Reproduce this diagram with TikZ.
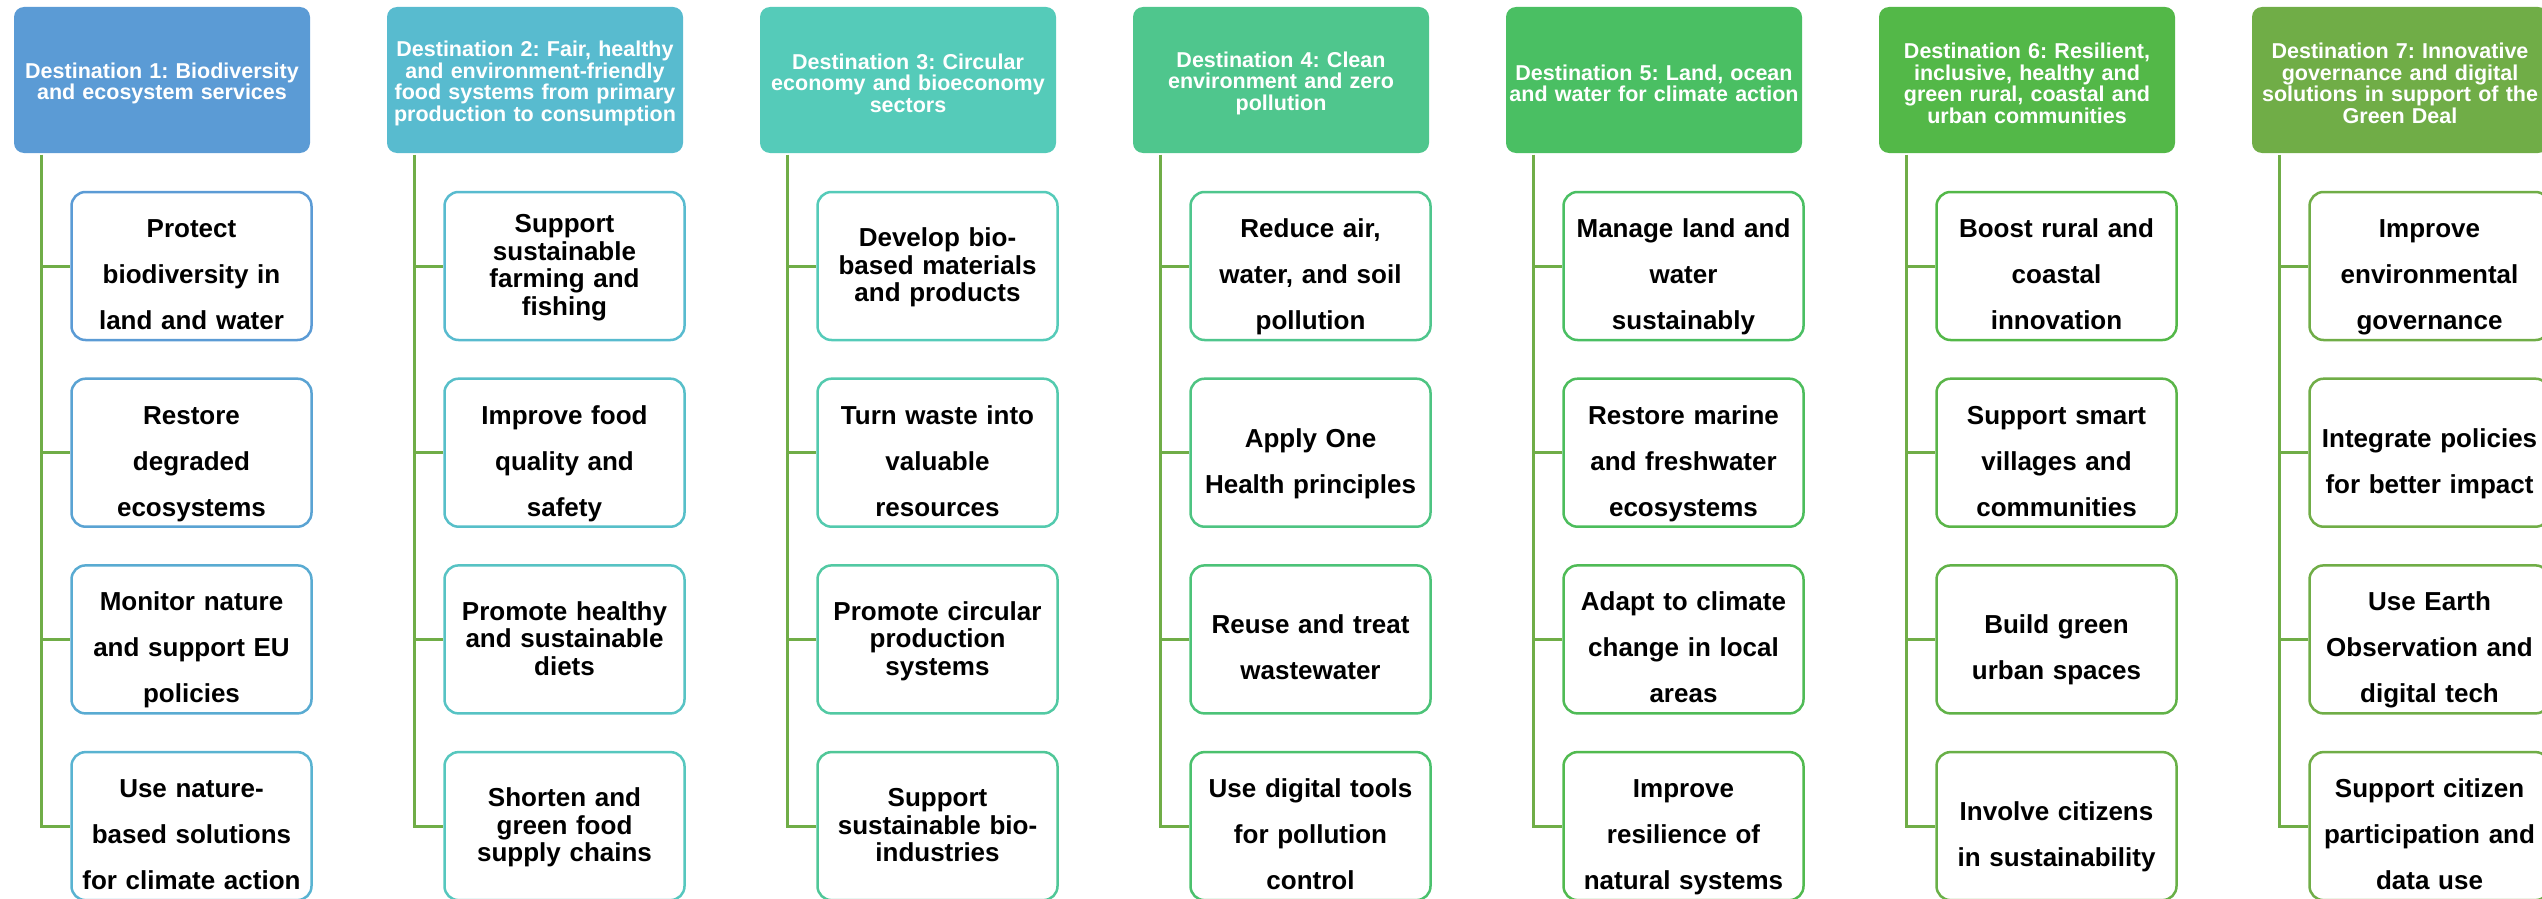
\documentclass[tikz,border=0pt]{standalone}
\usepackage{fontspec}
\setmainfont{Liberation Sans}
\frenchspacing
\definecolor{Dcolor1}{HTML}{5B9BD5}
\definecolor{Dcolor2}{HTML}{58BBCF}
\definecolor{Dcolor3}{HTML}{55CBB9}
\definecolor{Dcolor4}{HTML}{4FC68D}
\definecolor{Dcolor5}{HTML}{4ABF63}
\definecolor{Dcolor6}{HTML}{53B848}
\definecolor{Dcolor7}{HTML}{70AD47}
\definecolor{trunkcolor}{HTML}{70AD47}
\usepackage{tikz}
\usetikzlibrary{%
    calc,
    math
}

\begin{document}
\begin{tikzpicture}[x=1pt, y=-1pt, line width=3pt,
    headbox/.style={rectangle, rounded corners=10pt, inner sep=0pt, minimum width=296pt, minimum height=146pt, text width=294pt, align=center, text=white, font=\bfseries\fontsize{21.5}{21.5}\selectfont, execute at begin node={\rule{0pt}{22pt}}},
    childbox/.style={rectangle, rounded corners=14pt, line width=2.5pt, fill=white, inner sep=0pt, minimum width=240pt, minimum height=148pt, text width=236pt, align=center},
    looselines/.style={font=\bfseries\fontsize{26}{46}\selectfont, execute at begin node={\rule{0pt}{40.5pt}}, execute at end node={\rule[-5.5pt]{0pt}{5.5pt}}},
    tightlines/.style={font=\bfseries\fontsize{26}{27.5}\selectfont, execute at begin node={\rule{0pt}{22pt}}, execute at end node={\rule[-5.5pt]{0pt}{5.5pt}}},
    trunk/.style={draw=trunkcolor, line width=3pt}
]
    \tikzmath{%
        \colgap=373;
        \boxgap=186.7;
    };
    \useasboundingbox (0, 0) rectangle (2542, 899);

    % 标题
    \foreach \c/\txt in {%
            1/{Destination 1: Biodiversity\\and ecosystem services},
            2/{Destination 2: Fair, healthy\\and environment-friendly\\food systems from primary\\production to consumption},
            3/{Destination 3: Circular\\economy and bioeconomy\\sectors},
            4/{Destination 4: Clean\\environment and zero\\pollution},
            5/{Destination 5: Land, ocean\\and water for climate action},
            6/{Destination 6: Resilient,\\inclusive, healthy and\\green rural, coastal and\\urban communities},
            7/{Destination 7: Innovative\\governance and digital\\solutions in support of the\\Green Deal}} {%
            \tikzmath{\xl=14+(\c-1)*\colgap;}
            \node (head\c) [headbox, fill=Dcolor\c] at ({\xl+148}, 80) {\txt};
            \coordinate (trunk\c) at ($ (head\c.south west) + (28.5, 0) $);
        }

    % 子框
    \foreach \c/\i/\sp/\txt in {%
            1/1/looselines/{Protect\\biodiversity in\\land and water},
            1/2/looselines/{Restore\\degraded\\ecosystems},
            1/3/looselines/{Monitor nature\\and support EU\\policies},
            1/4/looselines/{Use nature-\\based solutions\\for climate action},
            2/1/tightlines/{Support\\sustainable\\farming and\\fishing},
            2/2/looselines/{Improve food\\quality and\\safety},
            2/3/tightlines/{Promote healthy\\and sustainable\\diets},
            2/4/tightlines/{Shorten and\\green food\\supply chains},
            3/1/tightlines/{Develop bio-\\based materials\\and products},
            3/2/looselines/{Turn waste into\\valuable\\resources},
            3/3/tightlines/{Promote circular\\production\\systems},
            3/4/tightlines/{Support\\sustainable bio-\\industries},
            4/1/looselines/{Reduce air,\\water, and soil\\pollution},
            4/2/looselines/{Apply One\\Health principles},
            4/3/looselines/{Reuse and treat\\wastewater},
            4/4/looselines/{Use digital tools\\for pollution\\control},
            5/1/looselines/{Manage land and\\water\\sustainably},
            5/2/looselines/{Restore marine\\and freshwater\\ecosystems},
            5/3/looselines/{Adapt to climate\\change in local\\areas},
            5/4/looselines/{Improve\\resilience of\\natural systems},
            6/1/looselines/{Boost rural and\\coastal\\innovation},
            6/2/looselines/{Support smart\\villages and\\communities},
            6/3/looselines/{Build green\\urban spaces},
            6/4/looselines/{Involve citizens\\in sustainability},
            7/1/looselines/{Improve\\environmental\\governance},
            7/2/looselines/{Integrate policies\\for better impact},
            7/3/looselines/{Use Earth\\Observation and\\digital tech},
            7/4/looselines/{Support citizen\\participation and\\data use}} {%
            \tikzmath{\xl=14+(\c-1)*\colgap; integer \pct, \nx; \pct=100-25*(\i-1); \nx=min(\c+1,7);}
            \node (box\c\i) [childbox, \sp, draw=Dcolor\c!\pct!Dcolor\nx] at ({\xl+177.5}, {266+(\i-1)*\boxgap}) {\txt};
        }

    % 连线
    \foreach \c in {1, ..., 7} {%
            \draw [trunk] (trunk\c) |- (box\c4.west);
            \foreach \i in {1, 2, 3} {%
                    \draw [trunk] (trunk\c |- box\c\i.west) -- (box\c\i.west);
                }
        }
\end{tikzpicture}
\end{document}
